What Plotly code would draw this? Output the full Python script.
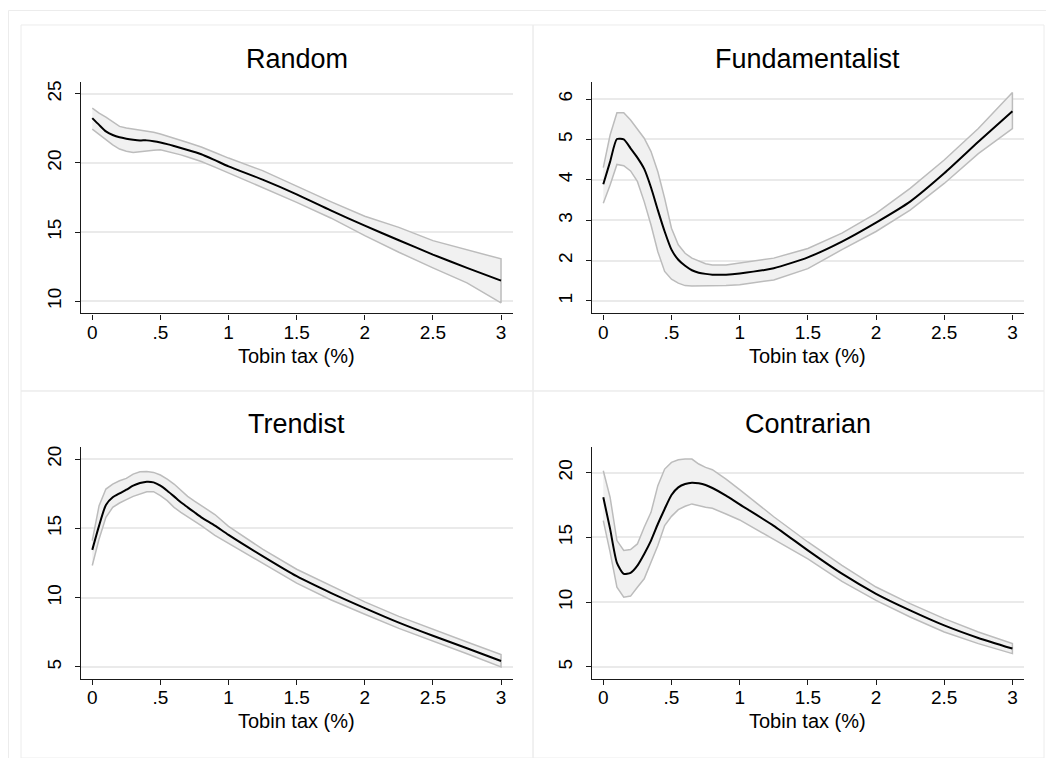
import plotly.graph_objects as go

# the page body keeps its default 8px margin, so the figure is drawn 8px in
OFF = 8
W, H = 1054 - 2 * OFF, 766 - 2 * OFF

# ---------------- data ----------------
tax = [0, 0.05, 0.1, 0.15, 0.2, 0.25, 0.3, 0.35, 0.4, 0.45, 0.5, 0.55, 0.6, 0.65,
       0.7, 0.75, 0.8, 0.9, 1.0, 1.25, 1.5, 1.75, 2.0, 2.25, 2.5, 2.75, 3.0]

random_mean = [23.24, 22.75, 22.28, 22.02, 21.85, 21.75, 21.68, 21.63, 21.63, 21.57, 21.48, 21.36,
               21.22, 21.08, 20.94, 20.79, 20.63, 20.20, 19.75, 18.79, 17.73, 16.57, 15.46, 14.41,
               13.37, 12.41, 11.49]
random_hi = [23.96, 23.60, 23.31, 22.95, 22.64, 22.52, 22.45, 22.38, 22.33, 22.22, 22.09, 21.95,
             21.80, 21.65, 21.48, 21.32, 21.15, 20.75, 20.35, 19.44, 18.31, 17.20, 16.14, 15.34,
             14.38, 13.73, 13.06]
random_lo = [22.45, 22.05, 21.68, 21.30, 21.00, 20.85, 20.76, 20.80, 20.88, 20.92, 20.95, 20.85,
             20.72, 20.58, 20.43, 20.28, 20.10, 19.70, 19.27, 18.23, 17.15, 16.02, 14.74, 13.54,
             12.41, 11.32, 9.88]

fund_mean = [3.89, 4.45, 5.01, 5.00, 4.78, 4.55, 4.27, 3.81, 3.25, 2.72, 2.27, 2.02, 1.87, 1.76,
             1.70, 1.67, 1.65, 1.65, 1.68, 1.81, 2.08, 2.47, 2.94, 3.46, 4.16, 4.94, 5.70]
fund_hi = [4.30, 5.11, 5.66, 5.66, 5.48, 5.27, 5.03, 4.70, 4.20, 3.54, 2.80, 2.39, 2.18, 2.06,
           1.98, 1.92, 1.89, 1.89, 1.94, 2.06, 2.30, 2.68, 3.17, 3.79, 4.49, 5.27, 6.16]
fund_lo = [3.42, 3.87, 4.38, 4.35, 4.22, 3.96, 3.46, 2.88, 2.22, 1.73, 1.54, 1.44, 1.38, 1.37,
           1.37, 1.37, 1.37, 1.38, 1.40, 1.52, 1.80, 2.27, 2.72, 3.25, 3.91, 4.65, 5.27]

trend_mean = [13.45, 15.20, 16.69, 17.24, 17.53, 17.79, 18.08, 18.27, 18.37, 18.32, 18.08, 17.72,
              17.31, 16.88, 16.52, 16.16, 15.80, 15.20, 14.53, 13.00, 11.55, 10.35, 9.25, 8.20,
              7.25, 6.35, 5.43]
trend_hi = [14.12, 16.64, 17.84, 18.20, 18.44, 18.61, 18.92, 19.09, 19.11, 19.04, 18.85, 18.56,
            18.20, 17.72, 17.31, 16.97, 16.64, 16.00, 15.15, 13.50, 12.05, 10.85, 9.70, 8.65,
            7.70, 6.80, 5.89]
trend_lo = [12.32, 14.24, 15.80, 16.52, 16.83, 17.07, 17.31, 17.48, 17.65, 17.65, 17.36, 17.00,
            16.52, 16.16, 15.80, 15.50, 15.20, 14.50, 13.90, 12.50, 11.05, 9.85, 8.80, 7.78,
            6.85, 5.95, 5.00]

contra_mean = [18.10, 15.66, 13.04, 12.19, 12.27, 12.83, 13.73, 14.76, 16.04, 17.20, 18.28, 18.87,
               19.13, 19.23, 19.18, 19.05, 18.82, 18.23, 17.55, 15.90, 14.00, 12.20, 10.65, 9.37,
               8.21, 7.24, 6.42]
contra_hi = [20.15, 18.10, 14.76, 13.99, 14.07, 14.50, 15.79, 16.94, 19.00, 20.28, 20.80, 21.00,
             21.05, 21.05, 20.67, 20.41, 20.23, 19.51, 18.70, 16.60, 14.65, 12.85, 11.17, 9.89,
             8.73, 7.70, 6.80]
contra_lo = [16.30, 13.86, 11.16, 10.39, 10.47, 11.16, 11.81, 13.09, 14.37, 15.92, 16.63, 17.15,
             17.41, 17.59, 17.46, 17.33, 17.25, 16.81, 16.35, 14.85, 13.35, 11.60, 10.14, 8.86,
             7.70, 6.80, 6.03]

x_tickvals = [0, 0.5, 1, 1.5, 2, 2.5, 3]
x_ticktext = ["0", ".5", "1", "1.5", "2", "2.5", "3"]
x_title = "Tobin tax (%)"

panels = [
    dict(title="Random", mean=random_mean, hi=random_hi, lo=random_lo,
         yticks=[10, 15, 20, 25], yrange=[9.11, 25.83]),
    dict(title="Fundamentalist", mean=fund_mean, hi=fund_hi, lo=fund_lo,
         yticks=[1, 2, 3, 4, 5, 6], yrange=[0.689, 6.415]),
    dict(title="Trendist", mean=trend_mean, hi=trend_hi, lo=trend_lo,
         yticks=[5, 10, 15, 20], yrange=[4.165, 20.85]),
    dict(title="Contrarian", mean=contra_mean, hi=contra_hi, lo=contra_lo,
         yticks=[5, 10, 15, 20], yrange=[4.106, 21.96]),
]

# ---------------- layout geometry (page pixels) ----------------
col_x = [(80.7, 512.6), (591.7, 1024.0)]
row_y = [(80.5, 312.3), (446.5, 678.3)]
boxes_x = [(21, 533), (533, 1044)]
boxes_y = [(23, 390), (390, 758)]


def fx(p):
    return (p - OFF) / W


def fy(p):
    return 1 - (p - OFF) / H


FONT = "Liberation Sans, Arial, Helvetica, sans-serif"
fig = go.Figure()
shapes = []
annotations = []

# outer frame (as close to the page edge as the figure allows)
shapes.append(dict(type="rect", xref="paper", yref="paper",
                   x0=fx(8.5), x1=fx(1060), y0=fy(8.5), y1=fy(775),
                   line=dict(color="#ececec", width=1), fillcolor="rgba(0,0,0,0)", layer="below"))

for i, p in enumerate(panels):
    r, c = divmod(i, 2)
    k = "" if i == 0 else str(i + 1)
    xa, ya = "x" + k, "y" + k
    # confidence band polygon
    fig.add_trace(go.Scatter(
        x=tax + tax[::-1], y=p["hi"] + p["lo"][::-1], xaxis=xa, yaxis=ya,
        mode="lines", fill="toself", fillcolor="#f1f1f1",
        line=dict(color="#bcbcbc", width=1.5), hoverinfo="skip", showlegend=False))
    fig.add_trace(go.Scatter(
        x=tax, y=p["mean"], xaxis=xa, yaxis=ya, mode="lines",
        line=dict(color="#000000", width=2, shape="spline", smoothing=0.6),
        showlegend=False))
    x0, x1 = col_x[c]
    y0, y1 = row_y[r]
    axis_common = dict(showline=True, linecolor="#1a1a1a", linewidth=1.2,
                       ticks="outside", ticklen=5, tickwidth=1.2, tickcolor="#1a1a1a",
                       tickfont=dict(family=FONT, size=19, color="#000000"),
                       zeroline=False, mirror=False)
    fig.layout["xaxis" + k] = dict(
        domain=[fx(x0), fx(x1)], anchor=ya, range=[-0.085, 3.085],
        tickvals=x_tickvals, ticktext=x_ticktext, showgrid=False,
        ticklabelstandoff=-3, **axis_common)
    fig.layout["yaxis" + k] = dict(
        domain=[fy(y1), fy(y0)], anchor=xa, range=p["yrange"],
        tickvals=p["yticks"], ticktext=[str(v) for v in p["yticks"]], tickangle=-90,
        ticklabelstandoff=6,
        showgrid=True, gridcolor="#eaeaea", gridwidth=1.5, **axis_common)
    # panel title
    annotations.append(dict(text=p["title"], xref="paper", yref="paper",
                            x=fx((x0 + x1) / 2), y=fy(57 + 366 * r), xanchor="center", yanchor="middle",
                            showarrow=False, font=dict(family=FONT, size=27, color="#000000")))
    annotations.append(dict(text=x_title, xref="paper", yref="paper",
                            x=fx((x0 + x1) / 2), y=fy(355 + 366 * r), xanchor="center", yanchor="middle",
                            showarrow=False, font=dict(family=FONT, size=20, color="#000000")))
    bx0, bx1 = boxes_x[c]
    by0, by1 = boxes_y[r]
    shapes.append(dict(type="rect", xref="paper", yref="paper",
                       x0=fx(bx0), x1=fx(bx1), y0=fy(by0), y1=fy(by1),
                       line=dict(color="#ececec", width=1), fillcolor="rgba(0,0,0,0)", layer="below"))

fig.update_layout(width=W, height=H, margin=dict(l=0, r=0, t=0, b=0),
                  paper_bgcolor="white", plot_bgcolor="white",
                  shapes=shapes, annotations=annotations, showlegend=False,
                  font=dict(family=FONT))

fig.write_html("out.html")
